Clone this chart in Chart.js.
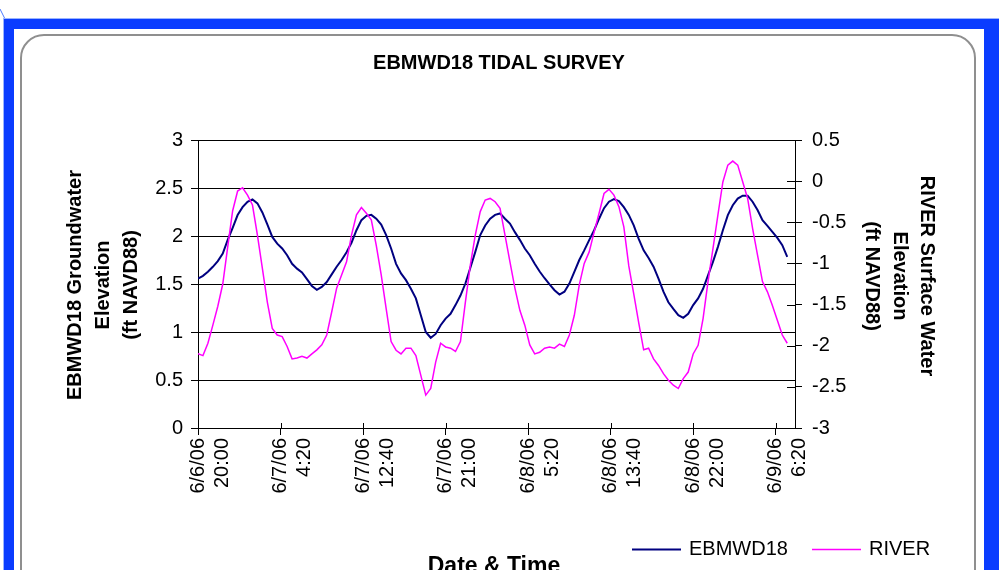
<!DOCTYPE html>
<html>
<head>
<meta charset="utf-8">
<title>EBMWD18 Tidal Survey</title>
<script src="https://cdn.jsdelivr.net/npm/chart.js@4.4.1/dist/chart.umd.min.js"></script>
<style>
  body { margin: 0; background: #fff; overflow: hidden; }
  #wrap { position: relative; width: 999px; height: 570px; overflow: hidden; }
  .frame { position: absolute; left: 4px; top: 19px; width: 970px; height: 700px;
           border: 10px solid #0a3cff; border-right-width: 30px; outline: 1px solid #9ab4ff; }
  .panel { position: absolute; left: 20px; top: 34px; width: 952px; height: 700px;
           border: 2px solid #8f8f8f; border-radius: 24px; background: #fff; }
  .corner { position: absolute; left: 0; top: 0; }
  canvas { position: absolute; left: 0; top: 0; }
</style>
</head>
<body>
<div id="wrap">
  <svg class="corner" width="20" height="25"><line x1="0" y1="9" x2="5" y2="19" stroke="#4a78ff" stroke-width="1"/></svg>
  <div class="frame"></div>
  <div class="panel"></div>
  <canvas id="tideChart" width="999" height="570"></canvas>
</div>
<script>
const FONT = "Arial, 'Liberation Sans', sans-serif";

const chartTitle = "EBMWD18 TIDAL SURVEY";
const leftTitle = ["EBMWD18 Groundwater", "Elevation", "(ft NAVD88)"];
const rightTitle = ["RIVER Surface Water", "Elevation", "(ft NAVD88)"];
const xTitle = "Date & Time";

// minutes after 6/6/06 20:00, one reading every 30 min
const STEP_MIN = 30;
const TICK_STEP = 500;
const X_MAX = 3617;
const tickLabels = [
  ["6/6/06", "20:00"], ["6/7/06", "4:20"], ["6/7/06", "12:40"], ["6/7/06", "21:00"],
  ["6/8/06", "5:20"], ["6/8/06", "13:40"], ["6/8/06", "22:00"], ["6/9/06", "6:20"]
];

// EBMWD18 groundwater elevation (left axis)
const groundwater = [
  1.557, 1.585, 1.627, 1.679, 1.738, 1.818, 1.96, 2.085, 2.218, 2.30,
  2.357, 2.381, 2.34, 2.245, 2.12, 1.99, 1.92, 1.87, 1.80, 1.71,
  1.66, 1.62, 1.55, 1.48, 1.44, 1.47, 1.52, 1.60, 1.68, 1.75,
  1.83, 1.93, 2.06, 2.165, 2.21, 2.22, 2.18, 2.12, 2.01, 1.87,
  1.71, 1.61, 1.54, 1.45, 1.35, 1.175, 1.00, 0.94, 0.98, 1.07,
  1.14, 1.19, 1.28, 1.38, 1.505, 1.67, 1.835, 2.01, 2.11, 2.18,
  2.22, 2.235, 2.18, 2.13, 2.04, 1.96, 1.87, 1.80, 1.71, 1.63,
  1.56, 1.495, 1.435, 1.39, 1.42, 1.505, 1.627, 1.75, 1.85, 1.957,
  2.06, 2.18, 2.29, 2.357, 2.384, 2.363, 2.30, 2.22, 2.11, 1.97,
  1.85, 1.77, 1.68, 1.557, 1.42, 1.31, 1.24, 1.175, 1.147, 1.19,
  1.28, 1.35, 1.45, 1.59, 1.73, 1.887, 2.06, 2.218, 2.32, 2.39,
  2.42, 2.42, 2.357, 2.27, 2.165, 2.106, 2.044, 1.98, 1.905, 1.783
];

// RIVER surface water elevation (right axis)
const river = [
  -2.096, -2.12, -1.97, -1.75, -1.52, -1.25, -0.80, -0.36, -0.12, -0.08,
  -0.17, -0.29, -0.656, -1.06, -1.47, -1.79, -1.87, -1.89, -2.01, -2.16,
  -2.15, -2.13, -2.15, -2.10, -2.05, -1.99, -1.87, -1.59, -1.30, -1.14,
  -0.98, -0.656, -0.41, -0.32, -0.39, -0.47, -0.78, -1.14, -1.55, -1.95,
  -2.055, -2.10, -2.03, -2.03, -2.12, -2.36, -2.60, -2.52, -2.20, -1.97,
  -2.015, -2.03, -2.07, -1.95, -1.47, -1.02, -0.656, -0.37, -0.23, -0.21,
  -0.25, -0.33, -0.656, -0.98, -1.30, -1.57, -1.75, -1.99, -2.10, -2.08,
  -2.03, -2.015, -2.03, -1.98, -2.01, -1.87, -1.63, -1.26, -1.00, -0.86,
  -0.62, -0.39, -0.15, -0.10, -0.17, -0.31, -0.555, -1.03, -1.37, -1.72,
  -2.05, -2.03, -2.16, -2.24, -2.34, -2.42, -2.48, -2.52, -2.40, -2.32,
  -2.10, -1.995, -1.67, -1.22, -0.82, -0.41, -0.01, 0.195, 0.244, 0.195,
  -0.007, -0.21, -0.575, -0.90, -1.22, -1.345, -1.51, -1.69, -1.87, -1.97
];

const seriesNames = ["EBMWD18", "RIVER"];
const seriesColors = ["#000080", "#ff00ff"];

function toPoints(values) {
  return values.map((v, i) => ({ x: i * STEP_MIN, y: v }));
}

function plainNumber(v) {
  return String(Math.round(v * 10) / 10);
}

function drawLines(ctx, lines, x0, y0, step, angle, dir) {
  lines.forEach((line, i) => {
    ctx.save();
    ctx.translate(x0 + dir * i * step, y0);
    ctx.rotate(angle);
    ctx.fillText(line, 0, 0);
    ctx.restore();
  });
}

const decorations = {
  id: 'decorations',
  afterDraw(chart) {
    const { ctx, chartArea, scales } = chart;
    ctx.save();
    ctx.strokeStyle = '#000';
    ctx.lineWidth = 1;

    // inner halves of the crossing tick marks
    ctx.beginPath();
    scales.y2.ticks.forEach(t => {
      const y = Math.round(scales.y2.getPixelForValue(t.value)) + 0.5;
      ctx.moveTo(chartArea.right - 8, y);
      ctx.lineTo(chartArea.right, y);
    });
    scales.x.ticks.forEach(t => {
      const x = Math.round(scales.x.getPixelForValue(t.value)) + 0.5;
      ctx.moveTo(x, chartArea.bottom - 5);
      ctx.lineTo(x, chartArea.bottom);
    });
    ctx.stroke();

    ctx.fillStyle = '#000';
    ctx.textAlign = 'center';
    ctx.textBaseline = 'middle';

    ctx.font = 'bold 20px ' + FONT;
    ctx.fillText(chartTitle, 499, 63);

    drawLines(ctx, leftTitle, 75, 285, 28, -Math.PI / 2, 1);
    drawLines(ctx, rightTitle, 927, 276, 27.5, Math.PI / 2, -1);

    ctx.font = 'bold 23px ' + FONT;
    ctx.textBaseline = 'alphabetic';
    ctx.fillText(xTitle, 494, 573);

    // legend
    ctx.font = '20px ' + FONT;
    ctx.textAlign = 'left';
    ctx.textBaseline = 'middle';
    const legendX = [632, 812];
    seriesNames.forEach((name, i) => {
      ctx.strokeStyle = seriesColors[i];
      ctx.lineWidth = i === 0 ? 2 : 1.5;
      ctx.beginPath();
      ctx.moveTo(legendX[i], 549.5);
      ctx.lineTo(legendX[i] + 49, 549.5);
      ctx.stroke();
      ctx.fillText(name, legendX[i] + 57, 549);
    });
    ctx.restore();
  }
};

Chart.defaults.font.family = FONT;
Chart.defaults.color = '#000';

const tickFont = { family: FONT, size: 20 };

new Chart(document.getElementById('tideChart').getContext('2d'), {
  type: 'line',
  data: {
    datasets: [{
      label: seriesNames[0],
      data: toPoints(groundwater),
      yAxisID: 'y',
      borderColor: seriesColors[0],
      borderWidth: 2,
      pointRadius: 0,
      order: 1
    }, {
      label: seriesNames[1],
      data: toPoints(river),
      yAxisID: 'y2',
      borderColor: seriesColors[1],
      borderWidth: 1.5,
      pointRadius: 0,
      order: 0
    }]
  },
  options: {
    responsive: false,
    animation: false,
    devicePixelRatio: 1,
    layout: { padding: { top: 140, left: 0, right: 0, bottom: 0 } },
    plugins: { legend: { display: false }, tooltip: { enabled: false }, title: { display: false } },
    scales: {
      x: {
        type: 'linear',
        min: 0,
        max: X_MAX,
        afterBuildTicks: s => { s.ticks = tickLabels.map((t, i) => ({ value: i * TICK_STEP })); },
        ticks: {
          autoSkip: false,
          minRotation: 90,
          maxRotation: 90,
          padding: 3,
          color: '#000',
          font: tickFont,
          callback: (v, i) => tickLabels[i]
        },
        grid: { drawOnChartArea: false, color: '#000', tickLength: 7 },
        border: { color: '#000', width: 1 },
        afterFit: s => { s.height = 142; }
      },
      y: {
        position: 'left',
        min: 0,
        max: 3,
        ticks: { stepSize: 0.5, padding: 8, color: '#000', font: tickFont, callback: plainNumber },
        grid: { color: '#000', tickLength: 7 },
        border: { color: '#000', width: 1 },
        afterFit: s => { s.width = 198; }
      },
      y2: {
        position: 'right',
        min: -3,
        max: 0.5,
        ticks: { stepSize: 0.5, padding: 10, color: '#000', font: tickFont, callback: plainNumber },
        grid: { drawOnChartArea: false, color: '#000', tickLength: 7 },
        border: { color: '#000', width: 1 },
        afterFit: s => { s.width = 204; }
      }
    }
  },
  plugins: [decorations]
});
</script>
</body>
</html>
